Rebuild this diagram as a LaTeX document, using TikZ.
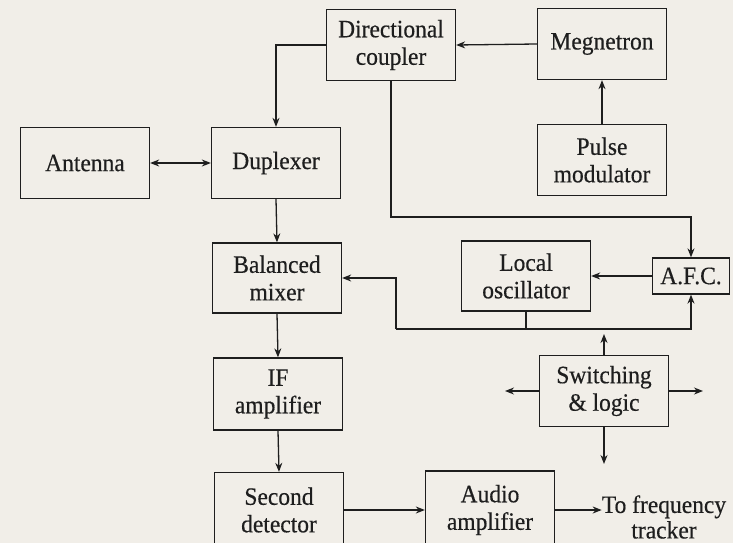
\documentclass[tikz,border=0pt]{standalone}
\usepackage{fontspec}
\setmainfont[FakeStretch=0.94,FakeBold=0.4]{Liberation Serif}
\usetikzlibrary{arrows.meta}
\definecolor{paper}{HTML}{F1EEE8}
\definecolor{ink}{HTML}{1E1E1E}
\begin{document}
\begin{tikzpicture}[x=1pt,y=-1pt,
  blk/.style={draw=ink, line width=1.3pt, align=center, inner sep=0pt,
    minimum width=129pt, minimum height=71pt,
    font=\fontsize{25}{27.5}\selectfont, text=ink},
  lbl/.style={align=center, inner sep=0pt, font=\fontsize{25}{25.5}\selectfont, text=ink},
  wire/.style={draw=ink, line width=1.3pt},
  conn/.style={wire, -{Stealth[length=9pt,width=7pt]}},
  dconn/.style={wire, {Stealth[length=9pt,width=7pt]}-{Stealth[length=9pt,width=7pt]}}]
\useasboundingbox (0,0) rectangle (733,543);
\fill[paper] (0,0) rectangle (733,543);
\clip (0,0) rectangle (733,543);

% blocks
\node[blk] (dc)    at (391,45)  {Directional\\coupler};
\node[blk] (mag)   at (602,44)  {Megnetron};
\node[blk] (pulse) at (602,160) {Pulse\\modulator};
\node[blk] (ant)   at (85,163)  {Antenna};
\node[blk] (dup)   at (276,163) {Duplexer};
\node[blk, minimum height=70pt] (bal) at (277,278) {Balanced\\mixer};
\node[blk, minimum height=70pt] (lo)  at (526,276) {Local\\oscillator};
\node[blk, minimum width=77pt, minimum height=36pt] (afc) at (691,276) {A.F.C.};
\node[blk] (sw)    at (604,391) {Switching\\\& logic};
\node[blk, minimum height=72pt] (ifa) at (278,394) {IF\\amplifier};
\node[blk, minimum height=75pt] (sec) at (279,510) {Second\\detector};
\node[blk, minimum height=78pt] (aud) at (490,510) {Audio\\amplifier};
\node[lbl] (trk) at (664,517) {To frequency\\tracker};

% free ends and junctions
\coordinate (j1)  at (391,217);
\coordinate (lb)  at (396,329);
\coordinate (swu) at (604,334);
\coordinate (swl) at (505,391);
\coordinate (swr) at (703,391);
\coordinate (swd) at (604,464);

% connectors
\draw[conn] (mag.west) -- (dc.east);
\draw[conn] (pulse.north) -- (mag.south);
\draw[conn] (dc.west) -| (dup.north);
\draw[dconn] (ant.east) -- (dup.west);
\draw[conn] (dc.south) -- (j1) -| (afc.north);
\draw[conn] (dup.south) -- (bal.north);
\draw[conn] (afc.west) -- (lo.east);
\draw[wire] (lo.south) -- (lo.south |- lb);
\draw[conn] (lb) |- (bal.east);
\draw[conn] (lb) -| (afc.south);
\draw[conn] (sw.north) -- (swu);
\draw[conn] (sw.west) -- (swl);
\draw[conn] (sw.east) -- (swr);
\draw[conn] (sw.south) -- (swd);
\draw[conn] (bal.south) -- (ifa.north);
\draw[conn] (ifa.south) -- (sec.north);
\draw[conn] (sec.east) -- (aud.west);
\draw[conn] (aud.east) -- (trk.west |- aud.east);
\end{tikzpicture}
\end{document}
